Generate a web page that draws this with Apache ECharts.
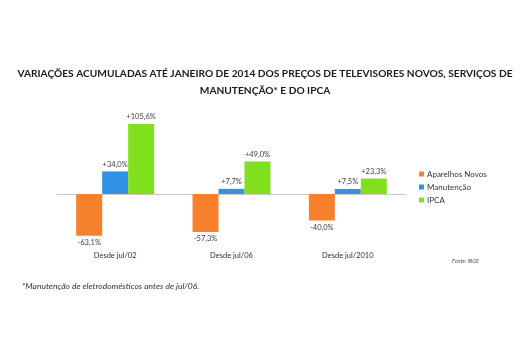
<!DOCTYPE html>
<html>
<head>
<meta charset="utf-8">
<script src="https://cdn.jsdelivr.net/npm/echarts@6/dist/echarts.min.js"></script>
<style>
  html, body { margin: 0; padding: 0; background: #fff; }
  #chart { width: 530px; height: 352px; }
</style>
</head>
<body>
<div id="chart"></div>
<script>
const categories = ["Desde jul/02", "Desde jul/06", "Desde jul/2010"];
const aparelhosNovos = [-63.1, -57.3, -40.0];
const manutencao = [34.0, 7.7, 7.5];
const ipca = [105.6, 49.0, 23.3];

const fmtLabel = (p) => {
  const v = p.value;
  const s = Math.abs(v).toFixed(1).replace(".", ",");
  return (v < 0 ? "-" : "+") + s + "%";
};

const makeSeries = (name, data, color) => ({
  name,
  type: "bar",
  data,
  barGap: "0%",
  barCategoryGap: "33%",
  itemStyle: { color },
  label: {
    show: true,
    position: "outside",
    formatter: fmtLabel,
    color: "#404040",
    fontSize: 7.5,
    fontFamily: "Lato",
    distance: 3
  },
  emphasis: { disabled: true }
});

const chart = echarts.init(document.getElementById("chart"));
chart.setOption({
  animation: false,
  title: [
    {
      text: "VARIAÇÕES ACUMULADAS ATÉ JANEIRO DE 2014 DOS PREÇOS DE TELEVISORES NOVOS, SERVIÇOS DE\nMANUTENÇÃO* E DO IPCA",
      left: "center",
      top: 60,
      textStyle: {
        fontFamily: "Lato",
        fontWeight: "bold",
        fontSize: 10.2,
        lineHeight: 17,
        align: "center",
        color: "#1a1a1a"
      }
    },
    {
      text: "*Manutenção de eletrodomésticos antes de jul/06.",
      left: 17,
      top: 277,
      textStyle: { fontFamily: "Lato", fontStyle: "italic", fontWeight: "normal", fontSize: 8.5, color: "#333" }
    },
    {
      text: "Fonte: IBGE",
      left: 447,
      top: 253,
      textStyle: { fontFamily: "Lato", fontStyle: "italic", fontWeight: "normal", fontSize: 5.5, color: "#555" }
    }
  ],
  legend: {
    orient: "vertical",
    left: 414,
    top: 165,
    itemWidth: 5,
    itemHeight: 5,
    itemGap: 5,
    icon: "rect",
    textStyle: { fontFamily: "Lato", fontSize: 8, lineHeight: 8, color: "#333", padding: [0, 0, 0, -2] },
    data: ["Aparelhos Novos", "Manutenção", "IPCA"]
  },
  grid: { left: 57, right: 124, top: 114.4, bottom: 105 },
  xAxis: [
    {
      type: "category",
      data: categories,
      axisLine: { show: false, onZero: false },
      axisTick: { show: false },
      axisLabel: { fontFamily: "Lato", fontSize: 7.5, color: "#333", margin: 5 }
    },
    {
      type: "category",
      data: categories,
      position: "bottom",
      axisLine: { show: true, onZero: true, lineStyle: { color: "#c8c8c8", width: 1 } },
      axisTick: { show: false },
      axisLabel: { show: false }
    }
  ],
  yAxis: {
    type: "value",
    min: -80,
    max: 120,
    show: false,
    splitLine: { show: false }
  },
  series: [
    makeSeries("Aparelhos Novos", aparelhosNovos, "#F6802C"),
    makeSeries("Manutenção", manutencao, "#2F92E4"),
    makeSeries("IPCA", ipca, "#80E01E")
  ]
});
</script>
</body>
</html>
